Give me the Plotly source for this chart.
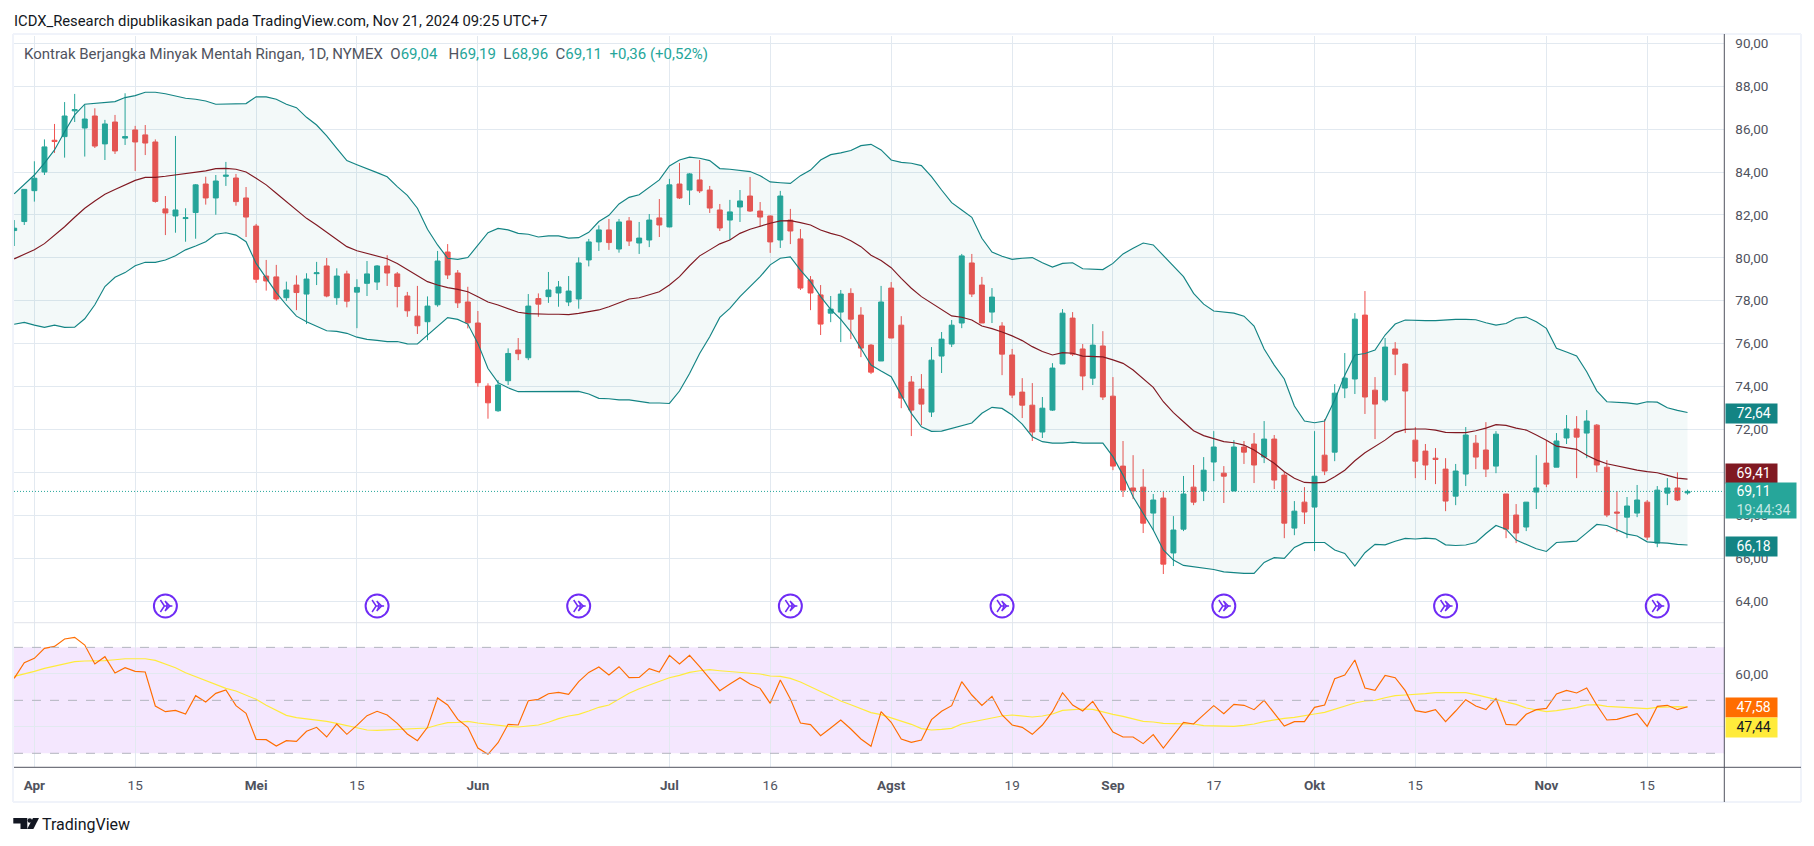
import plotly.graph_objects as go

W, H = 1814, 846

# daily bars, index 0 is Apr 1 2024 (trading days only)
bar_index = list(range(-2, 165))

open_px = [81.27,81.69,83.13,84.0,85.48,85.65,86.85,86.05,86.61,85.31,
    86.33,85.58,85.96,85.73,85.4,82.28,81.95,81.83,82.11,83.44,
    82.79,83.8,83.72,82.79,81.48,79.15,79.11,78.14,78.73,78.31,
    79.26,79.62,78.14,79.25,78.4,78.81,78.87,79.62,79.25,78.22,
    77.28,77.02,77.81,80.27,79.29,77.94,76.96,74.02,72.87,74.27,
    75.7,75.34,78.1,78.19,78.36,77.94,78.08,79.9,80.74,81.3,
    80.41,81.72,80.69,80.83,81.86,81.44,83.44,83.16,83.63,83.16,
    82.23,81.76,82.37,82.88,82.18,81.95,80.83,81.76,80.88,78.97,
    78.27,77.42,77.47,78.34,77.33,75.93,75.19,78.59,76.86,74.21,
    73.88,72.81,75.42,75.98,76.96,79.76,78.73,77.47,76.82,75.47,
    73.74,73.13,71.88,72.9,75.05,77.19,75.75,74.39,75.89,73.55,
    70.29,69.27,69.31,68.1,68.8,66.24,67.35,69.31,69.13,70.48,
    69.96,69.13,71.18,71.32,70.71,71.55,69.87,67.4,68.61,68.38,
    70.8,70.94,73.93,74.35,77.33,73.83,73.37,75.75,75.05,71.5,
    70.99,70.66,70.15,68.89,69.92,71.36,71.04,70.29,68.99,68.01,
    67.45,69.08,70.43,70.24,71.6,72.02,71.83,72.2,70.24,68.15,
    67.91,68.1,68.61,66.7,69.03,69.27,69.04]
high_px = [81.76,83.2,84.5,85.52,86.24,87.26,87.64,87.13,86.97,86.43,
    86.66,87.67,86.15,86.19,85.52,82.88,85.68,82.31,83.44,83.78,
    83.86,84.47,83.91,83.3,81.58,79.9,79.67,78.89,79.18,79.28,
    79.81,79.99,79.51,79.4,79.0,79.85,79.66,80.12,79.34,78.41,
    78.69,78.2,80.32,80.64,79.43,78.65,77.52,74.15,74.3,75.78,
    76.26,78.31,78.34,79.34,78.92,79.15,80.02,80.88,81.51,81.81,
    81.81,81.9,81.67,82.04,82.74,83.68,84.42,83.95,84.56,83.35,
    82.51,82.7,83.16,83.77,82.6,81.97,83.12,82.28,81.34,79.15,
    78.73,78.22,78.5,78.58,77.7,75.98,78.69,78.87,77.28,74.49,
    74.58,75.84,76.54,77.1,80.18,80.18,79.11,78.59,77.0,75.75,
    74.39,74.16,73.51,75.09,77.61,77.47,75.98,76.91,76.58,74.44,
    71.46,70.8,70.15,68.99,69.1,67.96,69.83,70.34,70.71,71.92,
    70.29,71.5,71.46,71.83,72.39,71.74,70.01,68.66,69.31,71.92,
    72.48,74.11,75.56,77.42,78.45,74.44,76.26,76.07,75.09,72.11,
    71.32,71.13,70.66,70.39,72.11,71.74,72.34,71.92,68.99,68.52,
    68.61,70.8,71.5,71.83,72.67,72.62,72.9,72.25,70.57,69.13,
    68.85,69.41,68.71,69.36,69.73,70.0,69.19]
low_px = [80.55,81.53,82.62,83.86,84.89,84.67,86.33,84.72,85.12,84.56,
    84.84,85.26,84.05,84.79,82.57,81.06,81.17,80.75,80.89,82.48,
    82.01,83.35,82.43,80.97,78.83,78.47,78.0,77.99,77.56,76.91,
    78.73,78.16,77.81,77.69,76.72,78.22,78.5,78.69,77.69,77.25,
    76.45,76.16,77.72,79.01,77.66,76.71,73.99,72.5,72.82,74.07,
    75.23,75.23,77.25,77.9,77.72,77.75,77.63,79.6,80.32,80.37,
    80.24,80.55,80.18,80.5,80.97,81.42,82.74,82.46,83.02,82.09,
    81.25,80.83,81.67,82.14,81.45,80.23,80.46,80.64,78.5,77.56,
    76.4,77.0,76.07,76.21,75.37,74.58,75.19,76.26,72.99,71.69,
    72.2,72.58,74.63,75.84,76.72,78.17,76.96,76.96,74.53,73.46,
    72.53,71.46,71.6,72.86,75.05,75.42,73.83,74.07,73.37,70.1,
    68.85,68.75,67.17,67.31,65.26,65.63,67.26,68.47,68.66,69.59,
    68.57,69.13,70.39,69.5,70.43,69.22,66.93,67.07,67.59,66.33,
    69.87,70.52,73.46,73.65,72.72,71.55,73.27,74.53,71.83,69.73,
    69.64,69.45,68.19,68.47,69.36,70.15,69.78,69.96,66.93,66.7,
    67.26,68.29,69.31,70.24,71.32,69.73,70.66,70.01,67.91,67.21,
    66.93,67.91,66.84,66.51,68.47,68.66,68.96]
close_px = [81.38,83.19,83.71,85.17,85.42,86.61,86.91,86.47,85.21,86.24,
    84.98,85.65,85.4,85.35,82.63,82.09,82.23,81.87,83.4,82.79,
    83.58,83.85,82.62,81.9,79.0,78.92,78.08,78.5,78.38,79.01,
    79.3,78.22,79.15,77.98,78.62,79.25,79.62,79.29,78.66,77.53,
    76.83,77.75,79.85,79.2,77.9,76.97,74.18,73.24,74.07,75.54,
    75.53,77.75,77.84,78.5,78.64,78.45,79.76,80.74,81.3,80.71,
    81.67,80.78,80.92,81.76,81.53,83.4,82.79,83.91,83.12,82.32,
    81.39,82.14,82.65,82.18,81.9,80.74,82.88,81.25,78.59,78.36,
    76.91,77.61,78.31,77.14,75.79,74.67,77.94,76.26,73.46,72.9,
    73.18,75.23,76.21,76.86,80.09,78.31,76.96,78.17,75.51,73.6,
    73.13,71.88,72.99,74.86,77.42,75.51,74.49,75.93,73.51,70.29,
    69.17,69.13,67.63,68.71,65.72,67.31,68.99,68.61,70.1,71.18,
    69.82,71.18,70.94,70.34,71.55,69.64,67.63,68.19,68.15,69.82,
    70.06,73.69,74.39,77.14,73.51,73.18,75.84,75.51,73.79,70.52,
    70.34,70.6,68.66,70.06,71.74,70.71,70.15,71.78,67.35,67.17,
    68.61,69.27,69.45,71.46,72.02,71.64,72.39,70.34,68.01,68.1,
    68.43,68.71,66.98,69.17,69.27,68.71,69.11]

bb_upper = [82.98,83.43,83.86,84.41,85.03,85.88,86.66,87.16,87.2,87.25,
    87.28,87.47,87.56,87.72,87.72,87.65,87.56,87.44,87.39,87.31,
    87.16,87.16,87.17,87.19,87.51,87.5,87.39,87.16,87.0,86.55,
    86.19,85.68,85.1,84.53,84.34,84.17,83.97,83.78,83.32,82.91,
    82.31,81.33,80.6,79.98,79.93,80.01,80.6,81.17,81.37,81.3,
    81.14,81.1,80.97,81.02,81.02,80.92,80.94,81.19,81.69,
    81.98,82.51,82.82,82.94,83.29,83.63,84.28,84.56,84.69,84.64,
    84.53,84.16,84.13,84.08,84.02,83.83,83.54,83.5,83.47,83.83,
    84.09,84.56,84.81,84.89,85.0,85.23,85.29,85.03,84.56,84.45,
    84.41,84.3,83.78,83.16,82.57,82.23,81.89,80.91,80.27,80.07,
    79.93,79.98,80.01,79.77,79.57,79.74,79.77,79.49,79.46,79.45,
    79.74,80.18,80.44,80.69,80.6,80.09,79.59,79.12,78.34,
    77.84,77.52,77.47,77.42,77.28,76.82,75.75,75.0,74.35,73.09,
    72.39,72.31,72.39,73.37,74.53,75.47,75.54,75.7,76.4,76.91,
    77.1,77.07,77.07,77.07,77.11,77.13,77.13,77.11,76.97,76.86,
    76.94,77.18,77.24,77.02,76.71,75.78,75.61,75.42,74.69,73.8,
    73.29,73.27,73.24,73.18,73.29,73.27,73.01,72.89,72.79]
bb_basis = [79.95,80.18,80.38,80.66,81.05,81.45,81.89,82.31,82.65,82.96,
    83.18,83.4,83.61,83.75,83.75,83.8,83.86,83.91,83.97,84.05,
    84.16,84.17,84.13,84.0,83.71,83.4,83.01,82.62,82.23,81.84,
    81.53,81.19,80.86,80.52,80.33,80.21,80.09,79.96,79.74,79.46,
    79.2,78.89,78.73,78.61,78.53,78.42,78.19,77.94,77.8,77.63,
    77.46,77.4,77.37,77.37,77.37,77.35,77.41,77.49,77.57,
    77.72,77.91,78.08,78.14,78.27,78.42,78.73,79.12,79.63,80.09,
    80.37,80.65,80.83,81.14,81.33,81.48,81.61,81.72,81.73,81.64,
    81.53,81.3,81.14,81.02,80.8,80.52,80.12,79.87,79.54,79.04,
    78.58,78.19,77.88,77.57,77.29,77.23,77.1,76.82,76.7,76.54,
    76.36,76.14,75.86,75.63,75.47,75.58,75.55,75.42,75.39,75.38,
    75.24,75.08,74.77,74.38,73.96,73.29,72.78,72.36,71.94,
    71.71,71.58,71.43,71.38,71.27,71.04,70.73,70.42,70.03,69.72,
    69.53,69.51,69.53,69.79,70.1,70.54,70.91,71.19,71.5,71.85,
    72.0,72.02,72.02,71.97,71.86,71.85,71.85,71.94,72.06,72.22,
    72.19,72.06,71.97,71.74,71.5,71.22,71.15,71.07,70.8,70.57,
    70.4,70.29,70.21,70.1,70.03,69.98,69.86,69.73,69.68]
bb_lower = [76.9,76.99,76.86,76.76,76.86,76.76,76.77,77.16,77.81,78.66,
    79.09,79.31,79.63,79.79,79.79,79.9,80.1,80.37,80.55,80.75,
    81.1,81.17,81.06,80.75,79.74,79.04,78.38,77.8,77.28,77.02,
    76.82,76.6,76.57,76.48,76.3,76.2,76.15,76.09,76.1,75.99,
    75.98,76.4,76.82,77.21,77.13,76.91,76.01,74.84,74.18,73.94,
    73.76,73.76,73.76,73.76,73.76,73.76,73.77,73.65,73.45,
    73.43,73.38,73.38,73.32,73.24,73.23,73.21,73.79,74.61,75.54,
    76.32,77.22,77.64,78.19,78.66,79.12,79.67,79.98,80.04,79.43,
    78.89,78.19,77.6,77.13,76.55,75.78,75.0,74.72,74.46,73.6,
    72.75,72.12,71.91,71.92,72.05,72.2,72.3,72.75,73.03,72.98,
    72.67,72.25,71.66,71.43,71.36,71.36,71.41,71.36,71.36,71.36,
    70.73,69.87,68.86,68.08,67.31,66.38,65.91,65.66,65.6,
    65.52,65.47,65.36,65.32,65.29,65.29,65.8,66.02,65.99,66.5,
    66.72,66.73,66.73,66.38,66.22,65.63,66.25,66.64,66.62,66.79,
    66.92,66.89,66.93,66.9,66.62,66.59,66.61,66.73,67.15,67.52,
    67.35,66.84,66.64,66.44,66.31,66.73,66.76,66.79,67.18,67.57,
    67.52,67.31,67.12,67.03,66.76,66.72,66.7,66.64,66.61]

rsi = [58.3,64.2,65.85,69.62,70.38,73.14,73.77,70.88,63.71,66.48,
    60.31,62.32,60.94,60.69,47.86,45.72,46.22,44.84,51.76,49.37,
    52.64,53.9,47.99,45.09,35.28,35.16,32.77,34.78,34.53,38.3,
    39.81,36.16,41.07,37.17,40.57,44.21,45.85,44.46,41.32,37.29,
    34.78,39.81,50.88,48.24,42.83,39.81,32.01,29.62,34.02,40.94,
    40.69,49.87,50.37,52.51,53.02,52.26,57.04,60.56,62.57,
    59.56,62.7,58.55,58.68,61.95,60.69,66.98,63.71,66.98,62.7,
    58.3,53.65,56.16,58.55,56.16,54.53,48.87,57.67,50.5,41.45,
    40.82,36.67,39.56,42.57,39.18,35.41,32.64,45.72,41.7,35.41,
    34.15,35.03,42.7,45.85,47.99,57.04,52.01,48.11,51.51,44.46,
    40.69,39.81,37.17,40.69,45.72,52.89,48.24,45.97,49.62,43.84,
    38.05,36.16,36.16,33.65,37.04,32.01,36.92,41.7,41.07,
    44.46,47.99,44.97,48.49,48.11,46.48,50.0,45.09,40.31,41.95,
    41.95,47.36,48.24,58.17,59.56,65.22,54.65,53.77,59.43,58.55,
    53.65,46.12,45.47,46.48,41.95,45.97,50.25,47.86,46.48,50.63,
    40.94,40.69,44.71,46.48,46.98,52.39,53.77,52.77,54.65,48.24,
    42.57,42.83,43.96,44.97,40.19,47.73,48.11,46.48,47.58]
rsi_ma = [59.06,59.94,60.94,62.07,62.95,63.58,64.59,64.84,64.84,64.97,
    65.34,65.72,65.72,65.72,65.09,63.71,62.32,60.44,58.93,57.42,
    55.78,54.53,53.52,52.01,50.38,48.11,46.1,44.34,43.46,43.08,
    42.58,42.07,41.32,40.44,39.56,38.8,38.68,38.8,39.18,39.31,
    39.43,39.56,40.69,41.57,41.7,42.07,41.45,40.94,40.44,40.19,
    39.94,40.19,40.69,41.7,43.08,44.09,44.72,45.97,47.36,
    48.24,50.38,52.64,54.4,55.78,57.29,58.55,59.43,60.56,61.19,
    61.57,61.19,60.94,60.69,60.44,59.94,59.18,59.06,58.3,56.92,
    55.16,53.27,51.38,49.75,48.36,46.98,45.38,44.59,43.33,41.95,
    40.94,39.31,38.8,39.05,39.43,41.07,41.82,42.45,43.33,44.09,
    44.46,43.96,43.71,44.09,44.84,46.22,46.6,46.73,46.6,45.6,
    44.72,43.96,42.95,42.07,41.82,41.32,41.19,41.07,41.07,
    40.44,40.31,40.19,40.19,40.57,41.07,41.95,42.7,43.21,43.58,
    44.09,44.84,45.47,46.6,47.73,48.99,49.75,50.0,51.0,51.76,
    52.01,52.14,52.51,52.89,52.89,52.77,52.89,52.14,51.26,50.38,
    49.37,48.49,47.11,46.35,45.72,46.1,46.73,47.23,48.24,48.36,
    47.73,47.48,47.36,46.85,46.85,47.36,47.61,47.61,47.44]

idea_bars = [13, 34, 54, 75, 96, 118, 140, 161]
idea_level = [63.77] * len(idea_bars)

time_ticks = [0, 10, 22, 32, 44, 63, 73, 85, 97, 107, 117, 127, 137, 150, 160]
time_labels = ["<b>Apr</b>", "15", "<b>Mei</b>", "15", "<b>Jun</b>", "<b>Jul</b>", "16",
               "<b>Agst</b>", "19", "<b>Sep</b>", "17", "<b>Okt</b>", "15", "<b>Nov</b>", "15"]
price_ticks = [90, 88, 86, 84, 82, 80, 78, 76, 74, 72, 70, 68, 66, 64]
rsi_ticks = [60, 40]
hidden_ticks = [70, 40]  # sit fully behind the value tags in the original
rsi_bands = [70, 50, 30]
last_price = 69.11

UP, DOWN = "#26a69a", "#ef5350"
TEAL, MAROON = "#138484", "#801922"
GRID, FRAME, AXIS, TXT = "#e2e9f0", "#f0f3fa", "#50535e", "#50535e"
FONT = "Roboto"
LINE_W = 1.15


def fx(x):
    return x / W


def fy(y):
    return 1 - y / H


def fmt(v):
    return "" if v in hidden_ticks else f"{v:.2f}".replace(".", ",")


fig = go.Figure()
fig.add_trace(go.Scatter(x=bar_index, y=bb_upper, mode="lines", line=dict(color=TEAL, width=LINE_W)))
fig.add_trace(go.Scatter(x=bar_index, y=bb_lower, mode="lines", line=dict(color=TEAL, width=LINE_W),
                         fill="tonexty", fillcolor="rgba(19,132,132,0.05)"))
fig.add_trace(go.Scatter(x=bar_index, y=bb_basis, mode="lines", line=dict(color=MAROON, width=LINE_W)))
fig.add_trace(go.Candlestick(x=bar_index, open=open_px, high=high_px, low=low_px, close=close_px,
                             whiskerwidth=0,
                             increasing=dict(line=dict(color=UP, width=1), fillcolor=UP),
                             decreasing=dict(line=dict(color=DOWN, width=1), fillcolor=DOWN)))

# idea markers over the price pane: ring, merging tails, arrow head
for sym, size, lw, angle, shift in [("circle-open", 23, 2, 0, 0), ("y-right-open", 10, 1.5, 0, -0.1),
                                    ("arrow-wide-open", 7, 1.5, 90, 0.45)]:
    fig.add_trace(go.Scatter(x=[b + shift for b in idea_bars], y=idea_level, mode="markers",
                             marker=dict(symbol=sym, size=size, color="#6f2cf5", angle=angle,
                                         line=dict(color="#6f2cf5", width=lw))))

fig.add_trace(go.Scatter(x=bar_index, y=rsi_ma, mode="lines", xaxis="x2", yaxis="y2",
                         line=dict(color="#ffeb3b", width=LINE_W)))
fig.add_trace(go.Scatter(x=bar_index, y=rsi, mode="lines", xaxis="x2", yaxis="y2",
                         line=dict(color="#ff6d00", width=LINE_W)))

shapes = [
    dict(type="rect", xref="x2 domain", yref="y2", x0=0, x1=1, y0=rsi_bands[2], y1=rsi_bands[0],
         fillcolor="rgba(156,39,245,0.11)", line_width=0, layer="below"),
    dict(type="line", xref="x domain", yref="y", x0=0, x1=1, y0=last_price, y1=last_price,
         line=dict(color=UP, width=1, dash="1px,2px")),
]
for level in rsi_bands:
    shapes.append(dict(type="line", xref="x2 domain", yref="y2", x0=0, x1=1, y0=level, y1=level,
                       line=dict(color="#b2b5be", width=1, dash="dash")))


def pline(x0, y0, x1, y1, color, width=1):
    shapes.append(dict(type="line", xref="paper", yref="paper", x0=fx(x0), x1=fx(x1), y0=fy(y0), y1=fy(y1),
                       line=dict(color=color, width=width)))


# outer frame and pane separators
pline(13, 34, 1801, 34, FRAME, 2)
pline(13, 34, 13, 802, FRAME, 2)
pline(1801, 34, 1801, 802, FRAME, 2)
pline(13, 802, 1801, 802, FRAME, 2)
pline(14, 622.7, 1724, 622.7, "#e0e3eb", 1)
pline(14, 767.3, 1801, 767.3, AXIS, 1)
pline(1724.3, 34, 1724.3, 802, AXIS, 1)


def logo_path(points):
    return "M" + " L".join(f"{fx(x):.5f},{fy(y):.5f}" for x, y in points) + " Z"


for pts in [[(13.3, 818), (27.3, 818), (27.3, 829), (20.5, 829), (20.5, 823.4), (13.3, 823.4)],
            [(33, 818), (39, 818), (33.4, 829), (27.2, 829)]]:
    shapes.append(dict(type="path", xref="paper", yref="paper", path=logo_path(pts),
                       fillcolor="#131722", line_width=0))
shapes.append(dict(type="circle", xref="paper", yref="paper", x0=fx(27.5), x1=fx(32.1), y0=fy(822.8), y1=fy(818.2),
                   fillcolor="#131722", line_width=0))

green = lambda s: f"<span style='color:{UP}'>{s}</span>"
legend_text = ("Kontrak Berjangka Minyak Mentah Ringan, 1D, NYMEX  O" + green("69,04") + "   H" + green("69,19")
               + "  L" + green("68,96") + "  C" + green("69,11") + "  " + green("+0,36 (+0,52%)"))

annotations = [
    dict(x=fx(13), y=fy(21), text="ICDX_Research dipublikasikan pada TradingView.com, Nov 21, 2024 09:25 UTC+7",
         font=dict(size=14.8, color="#131722")),
    dict(x=fx(23), y=fy(54), text=legend_text, font=dict(size=15, color=TXT)),
    dict(x=fx(41), y=fy(824.5), text="TradingView", font=dict(size=16, color="#131722")),
]
for a in annotations:
    a.update(xref="paper", yref="paper", xanchor="left", yanchor="middle", showarrow=False, borderpad=0)

# value tags on the price scale
pad = "&nbsp;&nbsp;&nbsp;"
for text, y0, y1, x1, bg, fg in [
    (pad + "72,64", 403, 421.7, 1775.6, TEAL, "#ffffff"),
    (pad + "69,41", 463, 481.7, 1775.6, MAROON, "#ffffff"),
    (pad + "69,11<br>" + pad + "<span style='color:#c4e8e4'>19:44:34</span>", 482, 517, 1795, UP, "#ffffff"),
    (pad + "66,18", 535.7, 554.3, 1775.6, TEAL, "#ffffff"),
    (pad + "47,58", 697, 715.7, 1775.6, "#ff6d00", "#ffffff"),
    (pad + "47,44", 717, 735.7, 1775.6, "#ffeb3b", "#131722"),
]:
    annotations.append(dict(xref="paper", yref="paper", x=fx(1725), y=fy(y0), xanchor="left", yanchor="top",
                            width=x1 - 1725, height=y1 - y0, text=text, bgcolor=bg, showarrow=False,
                            align="left", valign="middle", borderpad=0, font=dict(size=14, color=fg)))

x_range = [-2.02, 167.65]
tick_font = dict(size=13.5, color=TXT)
fig.update_layout(
    width=W, height=H, autosize=False, showlegend=False, hovermode=False,
    margin=dict(l=0, r=0, t=0, b=0), paper_bgcolor="white", plot_bgcolor="white",
    font=dict(family=FONT),
    shapes=shapes, annotations=annotations,
    xaxis=dict(domain=[fx(14), fx(1724.3)], range=x_range, anchor="y", rangeslider=dict(visible=False),
               tickmode="array", tickvals=time_ticks, showticklabels=False, ticks="",
               showgrid=True, gridcolor=GRID, gridwidth=1, zeroline=False),
    yaxis=dict(domain=[fy(622.7), fy(36)], range=[62.99, 90.34], anchor="x", side="right",
               tickmode="array", tickvals=price_ticks, ticktext=[fmt(v) for v in price_ticks],
               tickfont=tick_font, ticks="", ticklabelstandoff=10,
               showgrid=True, gridcolor=GRID, gridwidth=1, zeroline=False),
    xaxis2=dict(domain=[fx(14), fx(1724.3)], range=x_range, anchor="y2", matches="x",
                tickmode="array", tickvals=time_ticks, ticktext=time_labels, tickfont=tick_font,
                ticks="", ticklabelstandoff=8,
                showgrid=True, gridcolor=GRID, gridwidth=1, zeroline=False),
    yaxis2=dict(domain=[fy(767.3), fy(622.7)], range=[24.72, 79.31], anchor="x2", side="right",
                tickmode="array", tickvals=rsi_ticks, ticktext=[fmt(v) for v in rsi_ticks],
                tickfont=tick_font, ticks="", ticklabelstandoff=10,
                showgrid=True, gridcolor=GRID, gridwidth=1, zeroline=False),
)

fig.write_html("out.html", config=dict(displayModeBar=False), post_script="document.body.style.margin='0';")
